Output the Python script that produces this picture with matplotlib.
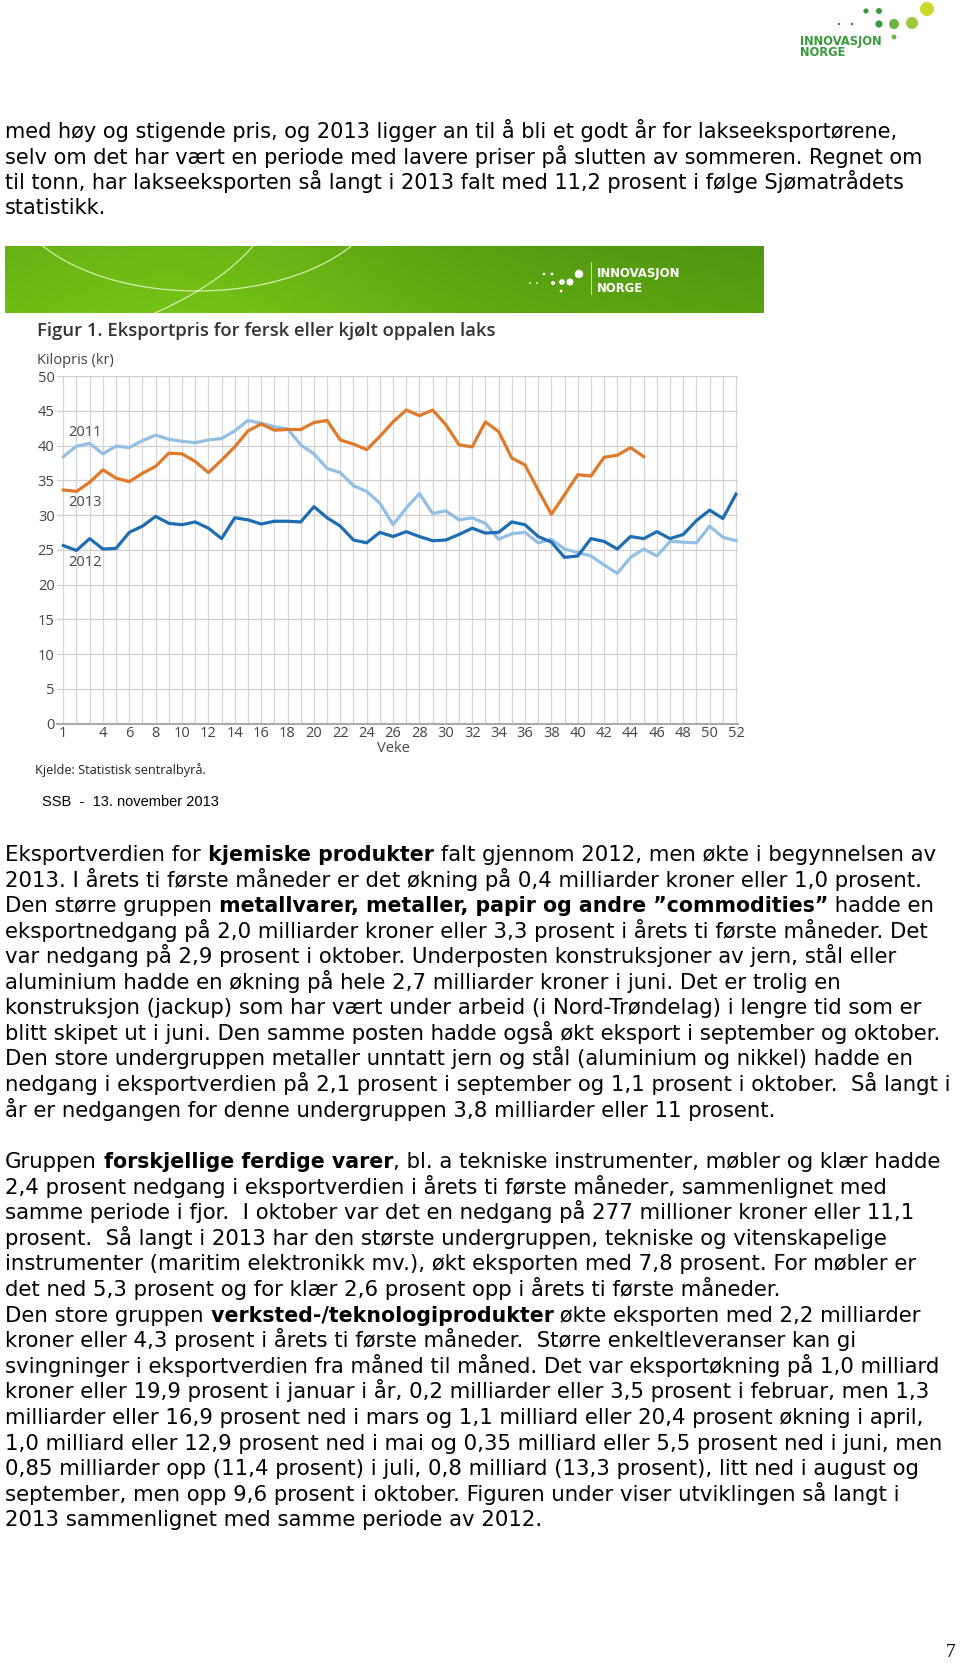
import matplotlib
matplotlib.use("Agg")
import numpy as np
import matplotlib.pyplot as plt
from matplotlib.patches import Circle

# --- chart data ---
weeks = list(range(1, 53))
price_2011 = [38.4, 39.9, 40.3, 38.8, 39.9, 39.7, 40.7, 41.5, 40.9, 40.6,
              40.4, 40.8, 41.0, 42.1, 43.6, 43.2, 42.7, 42.4, 40.1, 38.8,
              36.7, 36.1, 34.2, 33.4, 31.7, 28.6, 31.0, 33.1, 30.2, 30.6,
              29.3, 29.6, 28.8, 26.5, 27.3, 27.5, 26.0, 26.5, 25.1, 24.6,
              24.1, 22.8, 21.6, 23.9, 25.1, 24.1, 26.2, 26.1, 26.0, 28.4,
              26.8, 26.3]
price_2012 = [25.6, 24.9, 26.6, 25.1, 25.2, 27.5, 28.4, 29.8, 28.8, 28.6,
              29.0, 28.1, 26.6, 29.6, 29.3, 28.7, 29.1, 29.1, 29.0, 31.2,
              29.6, 28.4, 26.4, 26.0, 27.5, 26.9, 27.6, 26.9, 26.3, 26.4,
              27.2, 28.1, 27.4, 27.5, 29.0, 28.6, 26.9, 26.1, 23.9, 24.1,
              26.6, 26.2, 25.1, 26.9, 26.6, 27.6, 26.6, 27.2, 29.2, 30.7,
              29.5, 33.0]
price_2013 = [33.6, 33.4, 34.7, 36.5, 35.3, 34.8, 36.0, 37.0, 38.9, 38.8,
              37.7, 36.1, 37.9, 39.8, 42.1, 43.1, 42.2, 42.3, 42.3, 43.3,
              43.6, 40.8, 40.2, 39.4, 41.3, 43.4, 45.1, 44.3, 45.1, 43.0,
              40.1, 39.8, 43.4, 42.0, 38.2, 37.2, 33.6, 30.1, 32.9, 35.8,
              35.6, 38.3, 38.6, 39.7, 38.4]
x_ticks = [1, 4, 6, 8, 10, 12, 14, 16, 18, 20, 22, 24, 26, 28, 30, 32, 34,
           36, 38, 40, 42, 44, 46, 48, 50, 52]
y_ticks = [0, 5, 10, 15, 20, 25, 30, 35, 40, 45, 50]
series_labels = ["2011", "2013", "2012"]

# --- page text ---
para1 = [
    "med høy og stigende pris, og 2013 ligger an til å bli et godt år for lakseeksportørene,",
    "selv om det har vært en periode med lavere priser på slutten av sommeren. Regnet om",
    "til tonn, har lakseeksporten så langt i 2013 falt med 11,2 prosent i følge Sjømatrådets",
    "statistikk.",
]
para2 = [
    [("Eksportverdien for", 0), (" kjemiske produkter", 1), (" falt gjennom 2012, men økte i begynnelsen av", 0)],
    [("2013. I årets ti første måneder er det økning på 0,4 milliarder kroner eller 1,0 prosent.", 0)],
    [("Den større gruppen", 0), (" metallvarer, metaller, papir og andre ”commodities”", 1), (" hadde en", 0)],
    [("eksportnedgang på 2,0 milliarder kroner eller 3,3 prosent i årets ti første måneder. Det", 0)],
    [("var nedgang på 2,9 prosent i oktober. Underposten konstruksjoner av jern, stål eller", 0)],
    [("aluminium hadde en økning på hele 2,7 milliarder kroner i juni. Det er trolig en", 0)],
    [("konstruksjon (jackup) som har vært under arbeid (i Nord-Trøndelag) i lengre tid som er", 0)],
    [("blitt skipet ut i juni. Den samme posten hadde også økt eksport i september og oktober.", 0)],
    [("Den store undergruppen metaller unntatt jern og stål (aluminium og nikkel) hadde en", 0)],
    [("nedgang i eksportverdien på 2,1 prosent i september og 1,1 prosent i oktober.  Så langt i", 0)],
    [("år er nedgangen for denne undergruppen 3,8 milliarder eller 11 prosent.", 0)],
]
para3 = [
    [("Gruppen", 0), (" forskjellige ferdige varer", 1), (", bl. a tekniske instrumenter, møbler og klær hadde", 0)],
    [("2,4 prosent nedgang i eksportverdien i årets ti første måneder, sammenlignet med", 0)],
    [("samme periode i fjor.  I oktober var det en nedgang på 277 millioner kroner eller 11,1", 0)],
    [("prosent.  Så langt i 2013 har den største undergruppen, tekniske og vitenskapelige", 0)],
    [("instrumenter (maritim elektronikk mv.), økt eksporten med 7,8 prosent. For møbler er", 0)],
    [("det ned 5,3 prosent og for klær 2,6 prosent opp i årets ti første måneder.", 0)],
    [("Den store gruppen", 0), (" verksted-/teknologiprodukter", 1), (" økte eksporten med 2,2 milliarder", 0)],
    [("kroner eller 4,3 prosent i årets ti første måneder.  Større enkeltleveranser kan gi", 0)],
    [("svingninger i eksportverdien fra måned til måned. Det var eksportøkning på 1,0 milliard", 0)],
    [("kroner eller 19,9 prosent i januar i år, 0,2 milliarder eller 3,5 prosent i februar, men 1,3", 0)],
    [("milliarder eller 16,9 prosent ned i mars og 1,1 milliard eller 20,4 prosent økning i april,", 0)],
    [("1,0 milliard eller 12,9 prosent ned i mai og 0,35 milliard eller 5,5 prosent ned i juni, men", 0)],
    [("0,85 milliarder opp (11,4 prosent) i juli, 0,8 milliard (13,3 prosent), litt ned i august og", 0)],
    [("september, men opp 9,6 prosent i oktober. Figuren under viser utviklingen så langt i", 0)],
    [("2013 sammenlignet med samme periode av 2012.", 0)],
]

W, H = 960, 1664
fig = plt.figure(figsize=(W / 100, H / 100), dpi=100)
page = fig.add_axes([0, 0, 1, 1])
page.set_xlim(0, W)
page.set_ylim(H, 0)
page.axis("off")

BODY = "DejaVu Sans"
CHART = "Open Sans"


def text_line(x, y, parts, size, bold_size=None):
    prev = None
    for s, bold in parts:
        w = "bold" if bold else "normal"
        fs = (bold_size or size) if bold else size
        if prev is None:
            prev = page.text(x, y, s, fontsize=fs, family=BODY, weight=w,
                             va="baseline", ha="left", color="black")
        else:
            prev = page.annotate(s, xy=(1, 0), xycoords=prev, fontsize=fs,
                                 family=BODY, weight=w, va="bottom", color="black")


# top-right logo
logo_green = "#3a9a3c"
for (cx, cy, r, c) in [(839, 24, 1.2, "#3a9a3c"), (852, 24, 1.3, "#3a9a3c"),
                       (866, 11, 2.6, "#3a9a3c"), (879, 11, 3.0, "#3a9a3c"),
                       (879, 24, 3.6, "#3a9a3c"), (894, 24, 5.0, "#6db33f"),
                       (912, 23, 6.0, "#9cc83a"), (927, 9, 7.0, "#c9d92e"),
                       (894, 37, 2.4, "#6db33f")]:
    page.add_patch(Circle((cx, cy), r, color=c, lw=0))
page.text(800, 41, "INNOVASJON", fontsize=8.3, family="DejaVu Sans", weight="bold",
          color=logo_green, va="center", ha="left")
page.text(800, 53, "NORGE", fontsize=8.3, family="DejaVu Sans", weight="bold",
          color=logo_green, va="center", ha="left")

# paragraph 1
for i, s in enumerate(para1):
    text_line(5, 138 + i * 25.5, [(s, 0)], 15.0)

# green banner
bx0, by0, bw, bh = 5, 246, 759, 67
bn = fig.add_axes([bx0 / W, 1 - (by0 + bh) / H, bw / W, bh / H])
gx = np.linspace(0, 1, 300)
gy = np.linspace(0, 1, 40)
GX, GY = np.meshgrid(gx, gy)
glow = np.exp(-((GX - 0.25) / 0.28) ** 2)
r = 0.37 + 0.07 * glow - 0.05 * GX + 0.03 * GY
g = 0.66 + 0.08 * glow - 0.07 * GX + 0.04 * GY
b = 0.07 + 0.02 * glow
img = np.clip(np.dstack([r, g, b]), 0, 1)
bn.imshow(img, extent=[0, bw, bh, 0], aspect="auto", interpolation="bilinear")
t = np.linspace(0, np.pi, 200)
bn.plot(192 + 188 * np.cos(t), -60 + 105 * np.sin(t), color="#e8f5c8", lw=0.9, alpha=0.85)
u = np.linspace(0, 1, 100)
bxs = (1 - u) ** 2 * 150 + 2 * (1 - u) * u * 215 + u ** 2 * 248
bys = (1 - u) ** 2 * 67 + 2 * (1 - u) * u * 38 + u ** 2 * 0
bn.plot(bxs, bys, color="#e8f5c8", lw=0.9, alpha=0.85)
for (cx, cy, rr) in [(530, 283, 0.9), (537, 283, 0.9), (544, 274, 1.3), (552, 274, 1.4),
                     (553, 283, 2.0), (562, 282, 2.8), (570, 282, 3.5), (579, 274, 4.2),
                     (561, 291, 1.4)]:
    bn.add_patch(Circle((cx - bx0, cy - by0), rr, color="white", lw=0))
bn.plot([591 - bx0, 591 - bx0], [262 - by0, 294 - by0], color="white", lw=0.6, alpha=0.8)
bn.text(597 - bx0, 274 - by0, "INNOVASJON", fontsize=8.4, family="DejaVu Sans",
        weight="bold", color="white", va="center")
bn.text(597 - bx0, 288 - by0, "NORGE", fontsize=8.4, family="DejaVu Sans",
        weight="bold", color="white", va="center")
bn.set_xlim(0, bw)
bn.set_ylim(bh, 0)
bn.axis("off")

# chart titles
page.text(37, 331, "Figur 1. Eksportpris for fersk eller kjølt oppalen laks", fontsize=13.3,
          family=CHART, weight="semibold", color="#333333", va="center")
page.text(37, 360, "Kilopris (kr)", fontsize=10.5, family=CHART, color="#444444", va="center")

# chart
left, right, bottom, top = 56.7, 738, 723.5, 376
ax = fig.add_axes([left / W, 1 - bottom / H, (right - left) / W, (bottom - top) / H])
ax.set_xlim(0.5, 52.15)
ax.set_ylim(0, 50)
for sp in ax.spines.values():
    sp.set_visible(False)
ax.spines["bottom"].set_visible(True)
ax.spines["bottom"].set_color("#aaaaaa")
ax.spines["bottom"].set_linewidth(1.5)
ax.set_xticks(x_ticks)
ax.set_xticks(weeks, minor=True)
ax.set_yticks(y_ticks)
ax.grid(True, axis="x", which="both", color="#d6d6d6", lw=0.9)
ax.grid(True, axis="y", which="major", color="#cfcfcf", lw=0.9)
ax.set_axisbelow(True)
ax.tick_params(which="both", length=0)
ax.tick_params(axis="x", pad=2, labelsize=10.5, labelcolor="#444444")
ax.tick_params(axis="y", pad=1.5, labelsize=10.5, labelcolor="#444444")
for lab in ax.get_xticklabels() + ax.get_yticklabels():
    lab.set_family(CHART)

ax.plot(weeks, price_2011, color="#93bfe4", lw=2.3, solid_joinstyle="round")
ax.plot(weeks, price_2012, color="#1e6db3", lw=2.3, solid_joinstyle="round")
ax.plot(weeks[:len(price_2013)], price_2013, color="#e07a2b", lw=2.3, solid_joinstyle="round")

# series labels sit at the left end of the lines (page pixel coordinates)
for lbl, yy in zip(series_labels, [432, 503, 562]):
    ax.text(68, yy, lbl, transform=page.transData, fontsize=10.5, family=CHART,
            color="#444444", va="center", zorder=5, clip_on=False)

page.text(393, 749, "Veke", fontsize=10.5, family=CHART, color="#444444", va="center", ha="center")
page.text(35, 770, "Kjelde: Statistisk sentralbyrå.", fontsize=9.2, family=CHART,
          color="#222222", va="center")
page.text(42, 802, "SSB  -  13. november 2013", fontsize=10.5, family="Liberation Sans",
          color="black", va="center")

# paragraphs 2 and 3
for i, parts in enumerate(para2):
    text_line(5, 861 + i * 25.56, parts, 15.35, 14.8)
for i, parts in enumerate(para3):
    text_line(5, 1168 + i * 25.6, parts, 15.35, 14.8)

page.text(951, 1657, "7", fontsize=14, family="Liberation Serif", color="black",
          va="baseline", ha="center")

fig.savefig("out.png", dpi=100)
